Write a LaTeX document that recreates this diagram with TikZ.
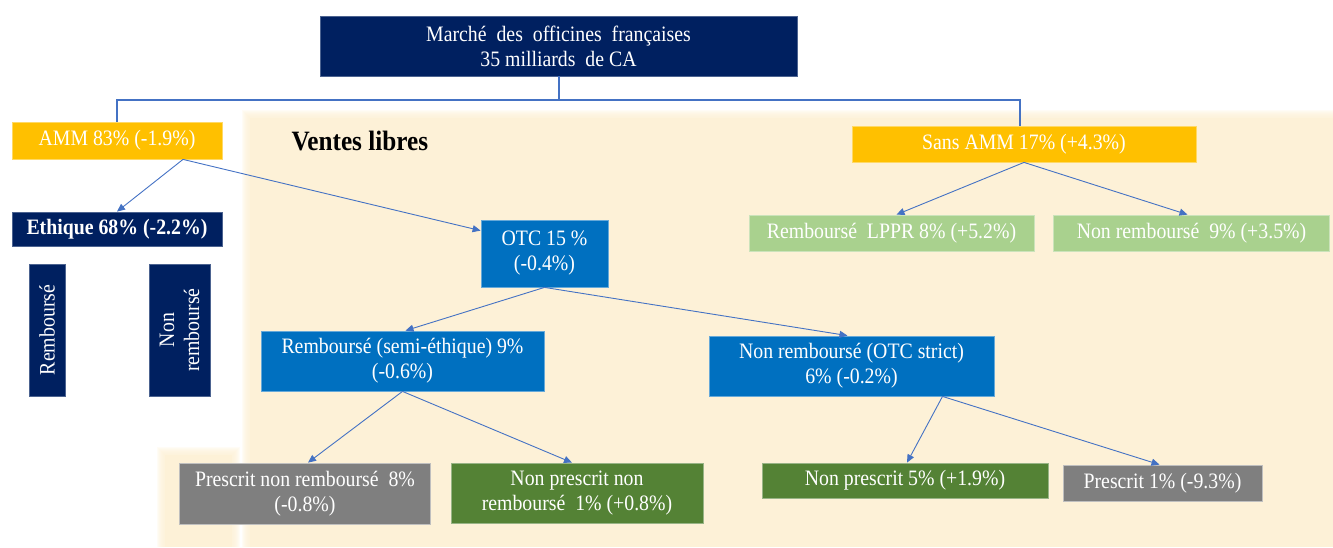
\documentclass[tikz,border=0pt]{standalone}
\usepackage{fontspec}
\setmainfont{Liberation Serif}[FakeStretch=0.9]
\usetikzlibrary{arrows.meta,calc}
\definecolor{navy}{HTML}{002060}
\definecolor{gold}{HTML}{FFC000}
\definecolor{otcblue}{HTML}{0070C0}
\definecolor{grayb}{HTML}{7F7F7F}
\definecolor{darkgreen}{HTML}{548235}
\definecolor{lightgreen}{HTML}{A9D18E}
\definecolor{linkblue}{HTML}{4472C4}
\definecolor{beige}{HTML}{FDF1D7}
\begin{document}
\begin{tikzpicture}[x=1pt,y=-1pt,
  box/.style={rectangle, inner sep=0pt, text=white, align=center,
    font=\fontsize{22}{25}\selectfont, line width=0.8pt},
  link/.style={draw=linkblue, line width=0.9pt, -{Triangle[length=8pt,width=7pt]}},
  elbow/.style={draw=linkblue, line width=2pt}
]
\useasboundingbox (0,0) rectangle (1333,547);
% background "ventes libres"
\fill[beige] (250,118) rectangle (1333,547);
\foreach \d in {1,...,8} \fill[beige, opacity=0.22] (250-\d,118-\d) rectangle (1333,547);
\fill[beige] (165,455) rectangle (232,547);
\foreach \d in {1,...,8} \fill[beige, opacity=0.22] (165-\d,455-\d) rectangle (232+\d,547);

\node[anchor=base west, font=\bfseries\fontsize{28}{30}\selectfont] (vl) at (288,150) {Ventes libres};

% nodes
\node[box, fill=navy, draw=navy!70!white, minimum width=477pt, minimum height=60pt] (top) at (558.5,46) {Marché\ \ des\ \ officines\ \ françaises\\35 milliards\ \ de CA};
\node[box, fill=gold, draw=gold!60!white, minimum width=210pt, minimum height=37pt] (amm) at (117,140.5) {AMM 83\% (-1.9\%)};
\node[box, fill=navy, draw=navy!70!white, minimum width=210pt, minimum height=34pt, font=\bfseries\fontsize{22}{25}\selectfont] (eth) at (117,229) {Ethique 68\% (-2.2\%)};
\node[box, fill=navy, draw=navy!70!white, rotate=90, minimum width=132pt, minimum height=36pt] (remb) at (47,330) {Remboursé};
\node[box, fill=navy, draw=navy!70!white, rotate=90, minimum width=132pt, minimum height=61pt] (nonremb) at (179.5,330) {Non\\remboursé};
\node[box, fill=otcblue, draw=otcblue!60!white, minimum width=127pt, minimum height=67pt] (otc) at (544.5,253.5) {OTC 15 \%\\(-0.4\%)};
\node[box, fill=otcblue, draw=otcblue!60!white, minimum width=283pt, minimum height=60pt] (rs) at (402.5,361) {Remboursé (semi-éthique) 9\%\\(-0.6\%)};
\node[box, fill=otcblue, draw=otcblue!60!white, minimum width=285pt, minimum height=60pt] (nrotc) at (851.5,366) {Non remboursé (OTC strict)\\6\% (-0.2\%)};
\node[box, fill=grayb, draw=grayb!50!white, minimum width=251pt, minimum height=61pt] (pnr) at (305,493.5) {Prescrit non remboursé\ \ 8\%\\(-0.8\%)};
\node[box, fill=darkgreen, draw=darkgreen!60!white, minimum width=252pt, minimum height=60pt] (npnr) at (577,493) {Non prescrit non\\remboursé\ \ 1\% (+0.8\%)};
\node[box, fill=darkgreen, draw=darkgreen!60!white, minimum width=286pt, minimum height=35pt] (np5) at (905,480.5) {Non prescrit 5\% (+1.9\%)};
\node[box, fill=grayb, draw=grayb!50!white, minimum width=199pt, minimum height=36pt] (p1) at (1162.5,483) {Prescrit 1\% (-9.3\%)};
\node[box, fill=gold, draw=gold!60!white, minimum width=344pt, minimum height=36pt] (sans) at (1024,144) {Sans AMM 17\% (+4.3\%)};
\node[box, fill=lightgreen, draw=lightgreen!60!white, minimum width=285pt, minimum height=36pt] (lppr) at (891.5,233) {Remboursé\ \ LPPR 8\% (+5.2\%)};
\node[box, fill=lightgreen, draw=lightgreen!60!white, minimum width=276pt, minimum height=36pt] (nr9) at (1191.5,233) {Non remboursé\ \ 9\% (+3.5\%)};

% elbow connector
\coordinate (split) at ([yshift=-24pt]top.south);
\draw[elbow] (top.south) -- (split) -| (amm.north);
\draw[elbow] (split) -| ([xshift=-4pt]sans.north);

% arrows
\draw[link] ([xshift=66pt]amm.south) -- (eth.north);
\draw[link] ([xshift=66pt]amm.south) -- ([yshift=-11pt]otc.north west);
\draw[link] (otc.south) -- ([xshift=3pt]rs.north);
\draw[link] (otc.south) -- ([xshift=-4pt]nrotc.north);
\draw[link] (rs.south) -- ([xshift=3pt]pnr.north);
\draw[link] (rs.south) -- ([xshift=-5pt]npnr.north);
\draw[link] ([xshift=91pt]nrotc.south) -- ([xshift=2pt]np5.north);
\draw[link] ([xshift=91pt]nrotc.south) -- ([xshift=-3pt]p1.north);
\draw[link] (sans.south) -- ([xshift=5pt]lppr.north);
\draw[link] (sans.south) -- ([xshift=-4pt]nr9.north);
\end{tikzpicture}
\end{document}
